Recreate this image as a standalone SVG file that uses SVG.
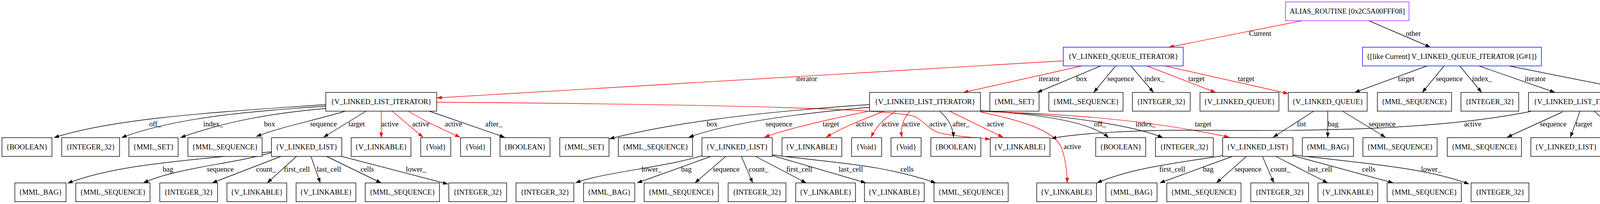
<svg xmlns="http://www.w3.org/2000/svg" width="4733" height="523" viewBox="0 0 4733 523">
<style>
.n rect{fill:#fff;stroke:#000;stroke-width:1.4}
.n.b rect{stroke:#0000ff}
.n.p rect{stroke:#a020f0}
text{font-family:"Liberation Serif","Times New Roman",serif;font-size:18.67px;fill:#000;text-anchor:middle}
.e path{fill:none;stroke:#000;stroke-width:1.4;marker-end:url(#ab)}
.e path.r{stroke:#ff0000;marker-end:url(#ar)}
</style>
<defs>
<marker id="ab" markerUnits="userSpaceOnUse" markerWidth="14" markerHeight="10" refX="13" refY="4.7" orient="auto"><path d="M0,0 L13,4.7 L0,9.4 z" fill="#000"/></marker>
<marker id="ar" markerUnits="userSpaceOnUse" markerWidth="14" markerHeight="10" refX="13" refY="4.7" orient="auto"><path d="M0,0 L13,4.7 L0,9.4 z" fill="#ff0000"/></marker>
</defs>
<rect width="4733" height="523" fill="#fff"/>
<g id="connectors" class="e">
<path class="r" d="M3334,53 L2992,121"/><text x="3226" y="92">Current</text>
<path d="M3504,53 L3662,121"/><text x="3618" y="92">other</text>
<path class="r" d="M2722,156 L1118,251"/><text x="2065" y="208">iterator</text>
<path class="r" d="M2770,169 L2466,237"/><text x="2686" y="208">iterator</text>
<path d="M2818,169 L2655,237"/><text x="2769" y="208">box</text>
<path d="M2856,169 L2800,237"/><text x="2869" y="208">sequence</text>
<path d="M2895,169 L2953,237"/><text x="2955" y="208">index_</text>
<path class="r" d="M2936,169 L3112,237"/><text x="3063" y="208">target</text>
<path class="r" d="M2982,169 L3298,240"/><text x="3190" y="208">target</text>
<path d="M3653,169 L3468,237"/><text x="3600" y="208">target</text>
<path d="M3697,169 L3641,237"/><text x="3710" y="208">sequence</text>
<path d="M3737,169 L3793,237"/><text x="3794" y="208">index_</text>
<path d="M3786,169 L3981,237"/><text x="3930" y="208">iterator</text>
<path d="M3863,169 L4219,240"/><text x="4115" y="208">box</text>
<path d="M834,268 C600,285 300,300 138,353"/><text x="397" y="324">off_</text>
<path d="M834,272 C650,285 450,300 311,353"/><text x="546" y="324">index_</text>
<path d="M834,278 C700,290 580,310 462,353"/><text x="690" y="324">box</text>
<path d="M884,285 C800,310 720,325 656,350"/><text x="828" y="324">sequence</text>
<path d="M937,285 L828,352"/><text x="913" y="324">target</text>
<path class="r" d="M976,285 L976,353"/><text x="998" y="324">active</text>
<path class="r" d="M1004,285 L1083,352"/><text x="1077" y="324">active</text>
<path class="r" d="M1045,285 C1090,312 1130,330 1178,352"/><text x="1161" y="324">active</text>
<path d="M1099,285 C1170,310 1230,330 1292,352"/><text x="1264" y="324">after_</text>
<path class="r" d="M1118,262 C1900,268 2300,280 2345,300 C2370,315 2380,335 2410,342 C2450,350 2490,352 2535,357"/><text x="2401" y="324">active</text>
<path d="M2226,268 C1900,290 1700,320 1560,356"/><text x="1823" y="324">box</text>
<path d="M2226,275 C2000,295 1850,320 1763,352"/><text x="1994" y="324">sequence</text>
<path class="r" d="M2225,285 C2100,310 2000,335 1957,352"/><text x="2127" y="324">target</text>
<path class="r" d="M2263,285 C2200,310 2150,330 2115,352"/><text x="2213" y="324">active</text>
<path class="r" d="M2294,285 C2260,305 2240,330 2230,352"/><text x="2279" y="324">active</text>
<path class="r" d="M2330,285 C2310,305 2305,330 2309,352"/><text x="2333" y="324">active</text>
<path d="M2405,285 C2430,305 2440,330 2441,352"/><text x="2460" y="324">after_</text>
<path class="r" d="M2431,285 L2568,352"/><text x="2548" y="324">active</text>
<path class="r" d="M2510,287 C2620,310 2700,335 2718,380 C2728,410 2732,440 2732,469"/><text x="2745" y="382">active</text>
<path d="M2510,284 C2650,292 2790,310 2838,353"/><text x="2816" y="324">off_</text>
<path d="M2510,284 C2700,292 2900,320 2977,353"/><text x="2933" y="324">index_</text>
<path class="r" d="M2510,286 C2800,292 3000,320 3147,352"/><text x="3080" y="324">target</text>
<path d="M3363,285 L3259,352"/><text x="3332" y="324">list</text>
<path d="M3399,285 L3399,353"/><text x="3413" y="324">bag</text>
<path d="M3437,285 L3547,352"/><text x="3538" y="324">sequence</text>
<path d="M3922,285 C3700,330 3400,337 3100,334 C2900,332 2760,342 2691,355"/><text x="3770" y="324">active</text>
<path d="M4000,287 L3858,352"/><text x="3976" y="324">sequence</text>
<path d="M4045,285 L4020,352"/><text x="4055" y="324">target</text>
<path d="M4081,285 L4157,352"/><text x="4149" y="324">after_</text>
<path d="M4117,285 L4280,352"/><text x="4243" y="324">off_</text>
<path d="M4163,285 L4423,352"/><text x="4362" y="324">index_</text>
<path d="M4196,283 C4400,310 4500,325 4596,355"/><text x="4505" y="324">box</text>
<path d="M695,389 C500,410 300,420 173,470"/><text x="430" y="440">bag</text>
<path d="M695,391 C600,420 450,430 367,469"/><text x="564" y="440">sequence</text>
<path d="M719,401 L543,469"/><text x="681" y="440">count_</text>
<path d="M759,401 L684,469"/><text x="760" y="440">first_cell</text>
<path d="M796,401 L820,469"/><text x="842" y="440">last_cell</text>
<path d="M836,401 L976,469"/><text x="940" y="440">cells</text>
<path d="M875,401 L1147,472"/><text x="1065" y="440">lower_</text>
<path d="M1797,399 C1700,430 1550,440 1473,469"/><text x="1668" y="440">lower_</text>
<path d="M1820,401 L1631,469"/><text x="1757" y="440">bag</text>
<path d="M1858,401 L1779,469"/><text x="1859" y="440">sequence</text>
<path d="M1898,401 L1927,469"/><text x="1942" y="440">count_</text>
<path d="M1934,401 L2064,469"/><text x="2046" y="440">first_cell</text>
<path d="M1978,399 L2217,469"/><text x="2178" y="440">last_cell</text>
<path d="M1978,397 C2150,420 2250,420 2396,469"/><text x="2322" y="440">cells</text>
<path d="M3130,399 C3000,420 2900,430 2808,469"/><text x="3001" y="440">first_cell</text>
<path d="M3155,401 L2969,469"/><text x="3093" y="440">bag</text>
<path d="M3191,401 L3114,469"/><text x="3195" y="440">sequence</text>
<path d="M3232,401 L3261,469"/><text x="3278" y="440">count_</text>
<path d="M3266,401 L3399,469"/><text x="3379" y="440">last_cell</text>
<path d="M3310,399 L3567,469"/><text x="3504" y="440">cells</text>
<path d="M3310,397 C3500,420 3650,430 3761,472"/><text x="3664" y="440">lower_</text>
</g>
<g id="n0" class="n p"><rect x="3291" y="5" width="316" height="48"/><text x="3449" y="35">ALIAS_ROUTINE [0x2C5A00FFF08]</text></g>
<g id="n1" class="n b"><rect x="2722" y="121" width="307" height="48"/><text x="2875.5" y="151">{V_LINKED_QUEUE_ITERATOR}</text></g>
<g id="n2" class="n b"><rect x="3488" y="121" width="458" height="48"/><text x="3717" y="151">{[like Current] V_LINKED_QUEUE_ITERATOR [G#1]}</text></g>
<g id="n3" class="n"><rect x="834" y="237" width="284" height="48"/><text x="976" y="267">{V_LINKED_LIST_ITERATOR}</text></g>
<g id="n4" class="n"><rect x="2226" y="237" width="284" height="48"/><text x="2368" y="267">{V_LINKED_LIST_ITERATOR}</text></g>
<g id="n5" class="n"><rect x="2534" y="237" width="126" height="48"/><text x="2597" y="267">{MML_SET}</text></g>
<g id="n6" class="n"><rect x="2685" y="237" width="190" height="48"/><text x="2780" y="267">{MML_SEQUENCE}</text></g>
<g id="n7" class="n"><rect x="2899" y="237" width="148" height="48"/><text x="2973" y="267">{INTEGER_32}</text></g>
<g id="n8" class="n"><rect x="3072" y="237" width="202" height="48"/><text x="3173" y="267">{V_LINKED_QUEUE}</text></g>
<g id="n9" class="n"><rect x="3298" y="237" width="202" height="48"/><text x="3399" y="267">{V_LINKED_QUEUE}</text></g>
<g id="n10" class="n"><rect x="3526" y="237" width="190" height="48"/><text x="3621" y="267">{MML_SEQUENCE}</text></g>
<g id="n11" class="n"><rect x="3740" y="237" width="148" height="48"/><text x="3814" y="267">{INTEGER_32}</text></g>
<g id="n12" class="n"><rect x="3913" y="237" width="284" height="48"/><text x="4055" y="267">{V_LINKED_LIST_ITERATOR}</text></g>
<g id="n13" class="n"><rect x="4221" y="237" width="126" height="48"/><text x="4284" y="267">{MML_SET}</text></g>
<g id="n14" class="n"><rect x="5" y="353" width="128" height="48"/><text x="69" y="383">{BOOLEAN}</text></g>
<g id="n15" class="n"><rect x="158" y="353" width="148" height="48"/><text x="232" y="383">{INTEGER_32}</text></g>
<g id="n16" class="n"><rect x="330" y="353" width="126" height="48"/><text x="393" y="383">{MML_SET}</text></g>
<g id="n17" class="n"><rect x="481" y="353" width="190" height="48"/><text x="576" y="383">{MML_SEQUENCE}</text></g>
<g id="n18" class="n"><rect x="695" y="353" width="180" height="48"/><text x="785" y="383">{V_LINKED_LIST}</text></g>
<g id="n19" class="n"><rect x="899" y="353" width="153" height="48"/><text x="975.5" y="383">{V_LINKABLE}</text></g>
<g id="n20" class="n"><rect x="1077" y="353" width="77" height="48"/><text x="1115.5" y="383">{Void}</text></g>
<g id="n21" class="n"><rect x="1179" y="353" width="77" height="48"/><text x="1217.5" y="383">{Void}</text></g>
<g id="n22" class="n"><rect x="1280" y="353" width="128" height="48"/><text x="1344" y="383">{BOOLEAN}</text></g>
<g id="n23" class="n"><rect x="1433" y="353" width="126" height="48"/><text x="1496" y="383">{MML_SET}</text></g>
<g id="n24" class="n"><rect x="1583" y="353" width="190" height="48"/><text x="1678" y="383">{MML_SEQUENCE}</text></g>
<g id="n25" class="n"><rect x="1797" y="353" width="180" height="48"/><text x="1887" y="383">{V_LINKED_LIST}</text></g>
<g id="n26" class="n"><rect x="2002" y="353" width="153" height="48"/><text x="2078.5" y="383">{V_LINKABLE}</text></g>
<g id="n27" class="n"><rect x="2180" y="353" width="77" height="48"/><text x="2218.5" y="383">{Void}</text></g>
<g id="n28" class="n"><rect x="2281" y="353" width="77" height="48"/><text x="2319.5" y="383">{Void}</text></g>
<g id="n29" class="n"><rect x="2383" y="353" width="128" height="48"/><text x="2447" y="383">{BOOLEAN}</text></g>
<g id="n30" class="n"><rect x="2535" y="353" width="153" height="48"/><text x="2611.5" y="383">{V_LINKABLE}</text></g>
<g id="n31" class="n"><rect x="2805" y="353" width="128" height="48"/><text x="2869" y="383">{BOOLEAN}</text></g>
<g id="n32" class="n"><rect x="2958" y="353" width="148" height="48"/><text x="3032" y="383">{INTEGER_32}</text></g>
<g id="n33" class="n"><rect x="3130" y="353" width="180" height="48"/><text x="3220" y="383">{V_LINKED_LIST}</text></g>
<g id="n34" class="n"><rect x="3334" y="353" width="131" height="48"/><text x="3399.5" y="383">{MML_BAG}</text></g>
<g id="n35" class="n"><rect x="3489" y="353" width="190" height="48"/><text x="3584" y="383">{MML_SEQUENCE}</text></g>
<g id="n36" class="n"><rect x="3705" y="353" width="190" height="48"/><text x="3800" y="383">{MML_SEQUENCE}</text></g>
<g id="n37" class="n"><rect x="3919" y="353" width="180" height="48"/><text x="4009" y="383">{V_LINKED_LIST}</text></g>
<g id="n38" class="n"><rect x="4123" y="353" width="128" height="48"/><text x="4187" y="383">{BOOLEAN}</text></g>
<g id="n39" class="n"><rect x="4275" y="353" width="128" height="48"/><text x="4339" y="383">{BOOLEAN}</text></g>
<g id="n40" class="n"><rect x="4428" y="353" width="148" height="48"/><text x="4502" y="383">{INTEGER_32}</text></g>
<g id="n41" class="n"><rect x="4600" y="353" width="126" height="48"/><text x="4663" y="383">{MML_SET}</text></g>
<g id="n42" class="n"><rect x="38" y="469" width="131" height="48"/><text x="103.5" y="499">{MML_BAG}</text></g>
<g id="n43" class="n"><rect x="194" y="469" width="190" height="48"/><text x="289" y="499">{MML_SEQUENCE}</text></g>
<g id="n44" class="n"><rect x="409" y="469" width="148" height="48"/><text x="483" y="499">{INTEGER_32}</text></g>
<g id="n45" class="n"><rect x="581" y="469" width="153" height="48"/><text x="657.5" y="499">{V_LINKABLE}</text></g>
<g id="n46" class="n"><rect x="758" y="469" width="153" height="48"/><text x="834.5" y="499">{V_LINKABLE}</text></g>
<g id="n47" class="n"><rect x="935" y="469" width="190" height="48"/><text x="1030" y="499">{MML_SEQUENCE}</text></g>
<g id="n48" class="n"><rect x="1149" y="469" width="148" height="48"/><text x="1223" y="499">{INTEGER_32}</text></g>
<g id="n49" class="n"><rect x="1321" y="469" width="148" height="48"/><text x="1395" y="499">{INTEGER_32}</text></g>
<g id="n50" class="n"><rect x="1494" y="469" width="131" height="48"/><text x="1559.5" y="499">{MML_BAG}</text></g>
<g id="n51" class="n"><rect x="1649" y="469" width="190" height="48"/><text x="1744" y="499">{MML_SEQUENCE}</text></g>
<g id="n52" class="n"><rect x="1864" y="469" width="148" height="48"/><text x="1938" y="499">{INTEGER_32}</text></g>
<g id="n53" class="n"><rect x="2037" y="469" width="153" height="48"/><text x="2113.5" y="499">{V_LINKABLE}</text></g>
<g id="n54" class="n"><rect x="2213" y="469" width="153" height="48"/><text x="2289.5" y="499">{V_LINKABLE}</text></g>
<g id="n55" class="n"><rect x="2391" y="469" width="190" height="48"/><text x="2486" y="499">{MML_SEQUENCE}</text></g>
<g id="n56" class="n"><rect x="2654" y="469" width="153" height="48"/><text x="2730.5" y="499">{V_LINKABLE}</text></g>
<g id="n57" class="n"><rect x="2831" y="469" width="131" height="48"/><text x="2896.5" y="499">{MML_BAG}</text></g>
<g id="n58" class="n"><rect x="2987" y="469" width="190" height="48"/><text x="3082" y="499">{MML_SEQUENCE}</text></g>
<g id="n59" class="n"><rect x="3202" y="469" width="148" height="48"/><text x="3276" y="499">{INTEGER_32}</text></g>
<g id="n60" class="n"><rect x="3374" y="469" width="153" height="48"/><text x="3450.5" y="499">{V_LINKABLE}</text></g>
<g id="n61" class="n"><rect x="3551" y="469" width="190" height="48"/><text x="3646" y="499">{MML_SEQUENCE}</text></g>
<g id="n62" class="n"><rect x="3766" y="469" width="148" height="48"/><text x="3840" y="499">{INTEGER_32}</text></g>
</svg>
